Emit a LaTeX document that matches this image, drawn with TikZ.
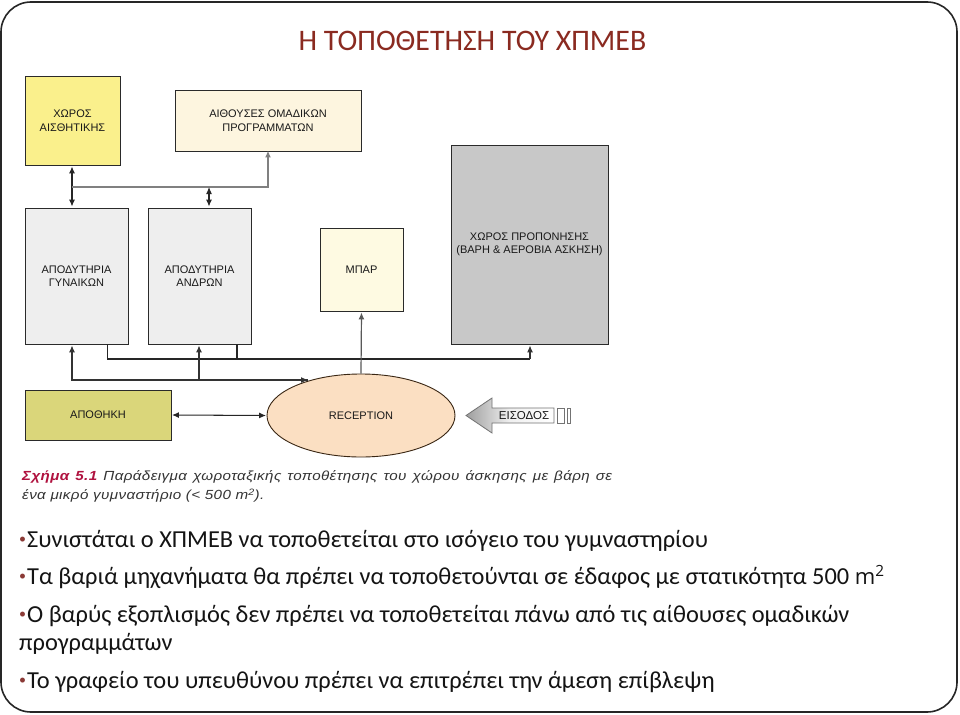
\documentclass[tikz,border=0pt]{standalone}
\usepackage{fontspec}
\usetikzlibrary{arrows.meta,shapes.geometric}
\setmainfont{Carlito}
\newfontfamily\dgfont{Liberation Sans}
\newfontfamily\capfont[FakeStretch=1.15,LetterSpace=3]{Liberation Sans}
\newfontfamily\djfont{Open Sans}
\definecolor{titlered}{HTML}{8A2A20}
\definecolor{bulletred}{HTML}{8B3A36}
\definecolor{capred}{HTML}{B0123F}
\definecolor{boxline}{HTML}{2A2A2A}
\definecolor{gline}{HTML}{808080}
\definecolor{fyellow}{HTML}{FAF08C}
\definecolor{fcream}{HTML}{FDF5DF}
\definecolor{fgrey}{HTML}{EEEEEE}
\definecolor{fbar}{HTML}{FEFAE2}
\definecolor{ftrain}{HTML}{C8C8C8}
\definecolor{fstore}{HTML}{DAD67A}
\definecolor{frec}{HTML}{FBDFC2}
\tikzset{
  tip/.tip={Latex[length=7pt,width=6pt]},
  room/.style={draw=boxline,line width=0.95pt,inner sep=0pt,align=center,
    font=\dgfont\fontsize{11}{13.5}\selectfont,text=black!90},
  arr/.style={line width=1.05pt,draw=black!80,-tip},
  barr/.style={line width=1.05pt,draw=black!85,tip-tip},
  plain/.style={line width=1.05pt,draw=black!85},
  body/.style={anchor=base west,inner sep=0pt,font=\fontsize{24.4}{29}\selectfont,text=black!92},
  captext/.style={anchor=base west,inner sep=0pt,font=\capfont\itshape\fontsize{13.2}{15}\selectfont,text=black!80},
}
\newcommand{\blt}{\textcolor{bulletred}{\raisebox{3.5pt}{\fontsize{14}{14}\selectfont •}}\hspace{1pt}}
\begin{document}
\begin{tikzpicture}[x=1pt,y=-1pt]
\useasboundingbox (0,0) rectangle (960,714);
\fill[white] (0,0) rectangle (960,714);
\draw[line width=1.6pt,draw=black!85,rounded corners=30pt] (1,2) rectangle (957,712);
\node[inner sep=0pt,text=titlered,font=\fontsize{29.8}{34}\selectfont] (title) at (472.5,41) {Η ΤΟΠΟΘΕΤΗΣΗ ΤΟΥ ΧΠΜΕΒ};

\node[room,fill=fyellow,minimum width=95pt,minimum height=89pt] (aisth) at (72.5,120.5) {ΧΩΡΟΣ\\ΑΙΣΘΗΤΙΚΗΣ};
\node[room,fill=fcream,minimum width=186pt,minimum height=61pt] (aith) at (268,120.5) {ΑΙΘΟΥΣΕΣ ΟΜΑΔΙΚΩΝ\\ΠΡΟΓΡΑΜΜΑΤΩΝ};
\node[room,fill=fgrey,minimum width=103pt,minimum height=136pt] (gyn) at (76.5,276) {ΑΠΟΔΥΤΗΡΙΑ\\ΓΥΝΑΙΚΩΝ};
\node[room,fill=fgrey,minimum width=103pt,minimum height=136pt] (andr) at (199.5,276) {ΑΠΟΔΥΤΗΡΙΑ\\ΑΝΔΡΩΝ};
\node[room,fill=fbar,minimum width=83pt,minimum height=83pt] (bar) at (361.5,269.5) {ΜΠΑΡ};
\node[room,fill=ftrain,minimum width=157pt,minimum height=199pt] (train) at (529.5,244.5) {ΧΩΡΟΣ ΠΡΟΠΟΝΗΣΗΣ\\(ΒΑΡΗ \& ΑΕΡΟΒΙΑ ΑΣΚΗΣΗ)};
\node[room,fill=fstore,minimum width=146pt,minimum height=50pt] (store) at (98,415) {ΑΠΟΘΗΚΗ};
\node[room,ellipse,draw=black!70!brown,line width=0.9pt,fill=frec,minimum width=188pt,minimum height=83pt] (rec) at (361,415.5) {RECEPTION};

% junctions
\coordinate (j1) at (72,187);
\coordinate (j2) at (209,187);
\coordinate (j3) at (107.5,359);
\coordinate (j4) at (237,359);
\coordinate (j5) at (530,359);
\coordinate (j6) at (72,380);
\coordinate (j7) at (199,380);
\coordinate (j8) at (308,380);

\draw[barr,shorten <=1pt,shorten >=1pt] (j1 |- aisth.south) -- (j1 |- gyn.north);
\draw[line width=1.4pt,draw=gline,-tip] (j1) -| ([yshift=1pt]aith.south);
\draw[barr,shorten >=1pt] (j2) -- (j2 |- andr.north);
\draw[plain] (j3 |- gyn.south) -- (j3) -- (j5);
\draw[plain] (j4 |- andr.south) -- (j4);
\draw[arr,shorten >=1pt] (j5) -- (j5 |- train.south);
\draw[line width=1.2pt,draw=black!65,-tip,shorten >=1pt] (rec.north) -- (bar.south);
\draw[arr,shorten >=1pt] (j8) -| (gyn.south -| j6);
\draw[arr] (j6) -- (j8);
\draw[arr,shorten >=1pt] (j7) -- (j7 |- andr.south);
\draw[barr,shorten <=0.5pt,shorten >=0.5pt] (store.east) -- (rec.west);

% entrance arrow
\node[draw=black!55,line width=0.8pt,inner sep=0pt,shape=rectangle,minimum height=15pt,minimum width=7pt] (door1) at (560.5,415.5) {};
\node[draw=black!55,line width=0.8pt,inner sep=0pt,shape=rectangle,minimum height=15pt,minimum width=3pt] (door2) at (568.5,415.5) {};
\draw[draw=black!55,line width=0.8pt,left color=black!38,right color=white,middle color=black!6]
  (466,415.5) -- (492,398) -- (492,408) -- (554,408) -- (554,423) -- (492,423) -- (492,433) -- cycle;
\node[inner sep=0pt,font=\dgfont\fontsize{11.5}{12}\selectfont,text=black!90] (ent) at (524,415.5) {ΕΙΣΟΔΟΣ};

% caption
\node[captext] (c1) at (22,480.5) {\hbox to 590pt{\spaceskip=4pt plus 30pt\textcolor{capred}{\bfseries Σχήμα 5.1} Παράδειγμα χωροταξικής τοποθέτησης του χώρου άσκησης με βάρη σε}};
\node[captext] (c2) at (22,499.5) {ένα μικρό γυμναστήριο (< 500 m\textsuperscript{2}).};

% body
\node[body] (l1) at (19,547) {\blt Συνιστάται ο ΧΠΜΕΒ να τοποθετείται στο ισόγειο του γυμναστηρίου};
\node[body] (l2) at (19,584) {\blt Τα βαριά μηχανήματα θα πρέπει να τοποθετούνται σε έδαφος με στατικότητα 500 {\djfont\fontsize{22}{24}\selectfont m\textsuperscript{2}}};
\node[body] (l3) at (19,622) {\blt Ο βαρύς εξοπλισμός δεν πρέπει να τοποθετείται πάνω από τις αίθουσες ομαδικών};
\node[body] (l4) at (19,650) {προγραμμάτων};
\node[body] (l5) at (19,688) {\blt Το γραφείο του υπευθύνου πρέπει να επιτρέπει την άμεση επίβλεψη};
\end{tikzpicture}
\end{document}
